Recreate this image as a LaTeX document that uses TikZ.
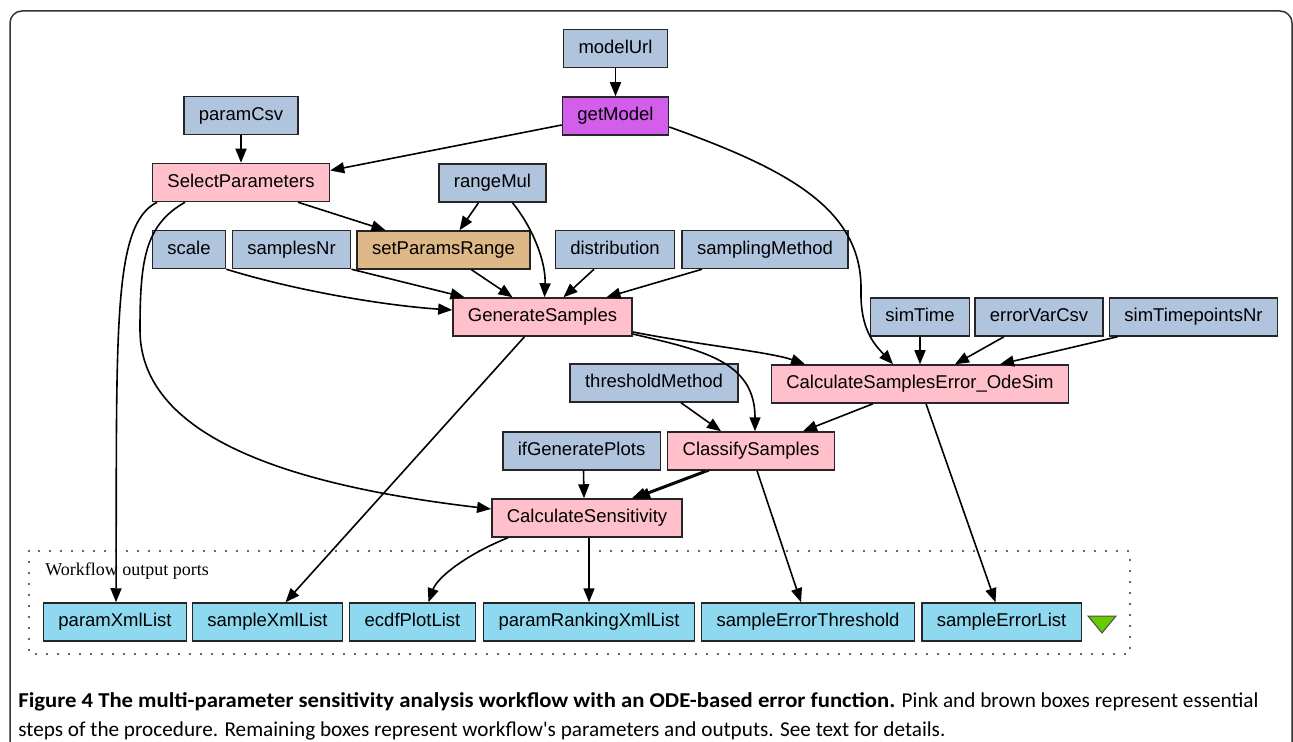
\documentclass[tikz,border=0pt]{standalone}
\usepackage{fontspec}
\usepackage{xcolor}
\usepackage{tikz}
\usetikzlibrary{arrows.meta}

\newfontfamily\boxfont{Liberation Sans}
\newfontfamily\portfont{Liberation Serif}
\newfontfamily\capfont[BoldFeatures={FakeStretch=1.07}]{Carlito}

\definecolor{paramblue}{HTML}{B0C4DE}
\definecolor{procpink}{HTML}{FFC0CB}
\definecolor{modelpurple}{HTML}{D35EEB}
\definecolor{rangetan}{HTML}{DEB887}
\definecolor{portblue}{HTML}{8ED8F0}
\definecolor{portgreen}{HTML}{66CC00}

\tikzset{
  box/.style={draw=black!85, line width=0.75pt, minimum height=19pt,
    inner xsep=7.5pt, inner ysep=0pt, text height=6.8pt, text depth=1.9pt,
    font=\boxfont\fontsize{9.25}{10}\selectfont},
  param/.style={box, fill=paramblue},
  proc/.style={box, fill=procpink},
  outport/.style={box, fill=portblue},
  flow/.style={line width=0.8pt, -{Triangle[length=7pt,width=5.5pt]}}
}

\begin{document}
\begin{tikzpicture}[x=0.5pt,y=-0.5pt]
  \useasboundingbox (0,0) rectangle (1293,742);

  % frame round the figure
  \draw[black!80, line width=0.75pt, rounded corners=6pt] (10,770) -- (10,11) -- (1292,11) -- (1292,770);

  % inputs and steps
  \node[param] (modelurl) at (615.5,48.5) {modelUrl};
  \node[box, fill=modelpurple] (getmodel) at (615.5,116) {getModel};
  \node[param] (paramcsv) at (241,115.5) {paramCsv};
  \node[proc] (selparams) at (241,182.5) {SelectParameters};
  \node[param] (rangemul) at (492.5,183) {rangeMul};

  \node[param] (scalep) at (189,249.5) {scale};
  \node[param] (samplesnr) at (291.5,249.5) {samplesNr};
  \node[box, fill=rangetan] (setrange) at (443.5,250) {setParamsRange};
  \node[param] (distrib) at (615,249.5) {distribution};
  \node[param] (sampmeth) at (765,249.5) {samplingMethod};

  \node[proc] (gensamp) at (542.5,317) {GenerateSamples};
  \node[param] (simtime) at (920,317) {simTime};
  \node[param] (errvar) at (1039,317) {errorVarCsv};
  \node[param] (simtp) at (1193.5,317) {simTimepointsNr};

  \node[param] (thrmeth) at (654,383) {thresholdMethod};
  \node[proc] (calcerr) at (920,384) {CalculateSamplesError\_OdeSim};

  \node[param] (ifplots) at (581.5,451) {ifGeneratePlots};
  \node[proc] (classify) at (751,451) {ClassifySamples};
  \node[proc] (calcsens) at (587,518) {CalculateSensitivity};

  % output ports
  \draw[black!80, line width=1.1pt, line cap=round, dash pattern=on 0pt off 5.5pt] (29,551) rectangle (1130,654);
  \node[anchor=base west, inner sep=0pt, font=\portfont\fontsize{9}{10}\selectfont] (porttitle) at (45,575) {Workflow output ports};

  \node[outport] (pxml) at (115,622) {paramXmlList};
  \node[outport] (sxml) at (267.5,622) {sampleXmlList};
  \node[outport] (ecdf) at (412.5,622) {ecdfPlotList};
  \node[outport] (prank) at (589,622) {paramRankingXmlList};
  \node[outport] (sthr) at (808,622) {sampleErrorThreshold};
  \node[outport] (serr) at (1001.5,622) {sampleErrorList};
  \draw[fill=portgreen, draw=black!70, line width=0.5pt] (1088,616) -- (1116,616) -- (1102,633) -- cycle;

  % connections
  \draw[flow] (modelurl.south) -- (getmodel.north);
  \draw[flow] (paramcsv.south) -- (selparams.north);
  \draw[flow] ([yshift=-4.5pt]getmodel.west) -- ([yshift=6pt]selparams.east);
  \draw[flow] ([yshift=-5.5pt]getmodel.east) .. controls (790,170) and (862,210) .. (861,290)
    .. controls (860,330) and (875,345) .. ([xshift=-13.5pt]calcerr.north);

  \draw[flow] ([xshift=-7pt]rangemul.south) -- ([xshift=8pt]setrange.north);
  \draw[flow] ([xshift=10pt]rangemul.south) .. controls (533,228) and (546,262) .. ([xshift=1pt]gensamp.north);
  \draw[flow] ([xshift=28.5pt]selparams.south) -- ([xshift=-29pt]setrange.north);

  \draw[flow] (scalep.south east) .. controls (300,292) and (390,306) .. ([yshift=3.5pt]gensamp.west);
  \draw[flow] (samplesnr.south east) -- ([xshift=-39pt]gensamp.north);
  \draw[flow] ([xshift=14pt]setrange.south) -- ([xshift=-15pt]gensamp.north);
  \draw[flow] ([xshift=-10.5pt]distrib.south) -- ([xshift=10.5pt]gensamp.north);
  \draw[flow] ([xshift=-31.5pt]sampmeth.south) -- ([xshift=32pt]gensamp.north);

  \draw[flow] ([xshift=-42pt]selparams.south) .. controls (112,225) and (117,330) .. ([xshift=0.5pt]pxml.north);
  \draw[flow] ([xshift=-28pt]selparams.south) .. controls (145,225) and (140,260) .. (140,330)
    .. controls (140,450) and (330,490) .. ([yshift=4.5pt]calcsens.west);

  \draw[flow] ([xshift=-9pt]gensamp.south) -- ([xshift=9pt]sxml.north);
  \draw[flow] ([yshift=-7.5pt]gensamp.east) .. controls (700,345) and (770,352) .. ([xshift=-57.5pt]calcerr.north);
  \draw[flow] ([yshift=-8.5pt]gensamp.east) .. controls (700,350) and (755,360) .. ([xshift=2pt]classify.north);

  \draw[flow] (simtime.south) -- (calcerr.north);
  \draw[flow] ([xshift=-17.5pt]errvar.south) -- ([xshift=17.5pt]calcerr.north);
  \draw[flow] ([xshift=-38pt]simtp.south) -- ([xshift=40pt]calcerr.north);

  \draw[flow] ([xshift=13.5pt]thrmeth.south) -- ([xshift=-15pt]classify.north);
  \draw[flow] ([xshift=-23.5pt]calcerr.south) -- ([xshift=26pt]classify.north);
  \draw[flow] ([xshift=3pt]calcerr.south) -- ([xshift=-3pt]serr.north);

  \draw[flow] ([xshift=1pt]ifplots.south) -- ([xshift=-1.5pt]calcsens.north);
  \draw[flow] ([xshift=-23pt]classify.south) -- ([xshift=22.5pt]calcsens.north);
  \draw[flow] ([xshift=-21pt]classify.south) -- ([xshift=24.5pt]calcsens.north);
  \draw[flow] ([xshift=3pt]classify.south) -- ([xshift=-3.5pt]sthr.north);

  \draw[flow] ([xshift=-39.5pt]calcsens.south) .. controls (465,555) and (437,578) .. ([xshift=8pt]ecdf.north);
  \draw[flow] ([xshift=1pt]calcsens.south) -- (prank.north);

  % caption
  \node[anchor=base west, inner sep=0pt, font=\capfont\fontsize{10.6}{12}\selectfont] (capone) at (18,707)
    {\textbf{Figure 4 The multi-parameter sensitivity analysis workflow with an ODE-based error function.} Pink and brown boxes represent essential};
  \node[anchor=base west, inner sep=0pt, font=\capfont\fontsize{10.6}{12}\selectfont] (captwo) at (18,736)
    {steps of the procedure. Remaining boxes represent workflow's parameters and outputs. See text for details.};
\end{tikzpicture}
\end{document}
